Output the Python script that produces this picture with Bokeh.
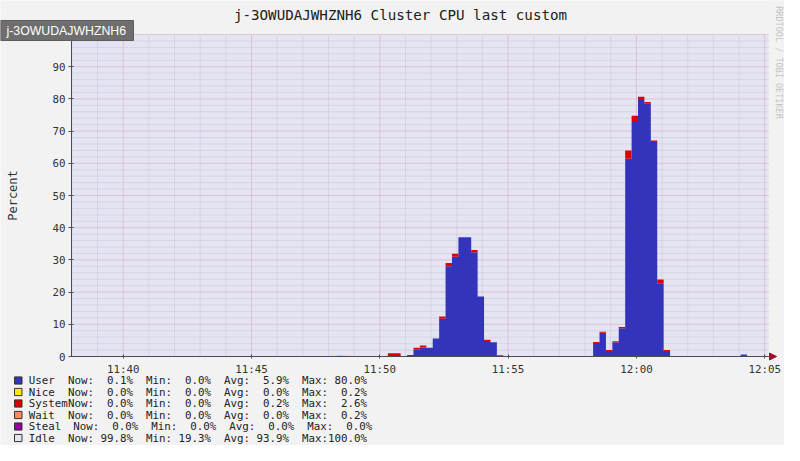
import numpy as np
from bokeh.plotting import figure
from bokeh.models import FixedTicker, Label, BoxAnnotation, Arrow, NormalHead, Range1d
from bokeh.embed import file_html
from bokeh.resources import INLINE

# ---------------- data ----------------
title_text = "j-3OWUDAJWHZNH6 Cluster CPU last custom"
host_badge = "j-3OWUDAJWHZNH6"
y_label = "Percent"
watermark = "RRDTOOL / TOBI OETIKER"

# time axis: minutes after 11:00; graph window and 15 s samples
window_start = 37.985
window_end = 65.148
t_first = 38.0625
t_step = 0.25

user = [
    0.1,
    0.1, 0.1, 0.1, 0.1, 0.1, 0.1, 0.1, 0.1, 0.1, 0.1,
    0.1, 0.1, 0.1, 0.1, 0.1, 0.1, 0.1, 0.1, 0.1, 0.1,
    0.1, 0.1, 0.1, 0.1, 0.1, 0.1, 0.1, 0.1, 0.0, 0.0,
    0.1, 0.1, 0.1, 0.1, 0.1, 0.1, 0.1, 0.1, 0.1, 0.1,
    0.1, 0.1, 0.1, 0.1, 0.1, 0.1, 0.1, 0.1, 0.1, 0.1,
    0.1, 0.0, 0.5, 2.1, 2.8, 2.7, 5.6, 11.7, 28.0, 31.0,
    37.0, 37.0, 32.4, 18.6, 4.8, 4.4, 0.1, 0.1, 0.1, 0.1,
    0.1, 0.1, 0.1, 0.1, 0.1, 0.1, 0.1, 0.1, 0.1, 0.1,
    0.1, 4.2, 7.4, 1.7, 4.4, 8.8, 61.4, 72.8, 80.0, 78.5,
    66.6, 22.6, 1.7, 0.1, 0.1, 0.1, 0.1, 0.1, 0.1, 0.1,
    0.1, 0.1, 0.1, 0.1, 0.6, 0.1, 0.1, 0.1, 0.1,
]
nice = [0.0] * 41 + [0.2] + [0.0] * 68
system = [
    0.0,
    0.0, 0.0, 0.0, 0.0, 0.0, 0.0, 0.0, 0.0, 0.0, 0.0,
    0.0, 0.0, 0.0, 0.0, 0.0, 0.0, 0.0, 0.0, 0.0, 0.0,
    0.0, 0.0, 0.0, 0.0, 0.0, 0.0, 0.0, 0.0, 0.0, 0.0,
    0.0, 0.0, 0.0, 0.0, 0.0, 0.0, 0.0, 0.0, 0.0, 0.0,
    0.0, 0.0, 0.0, 0.0, 0.0, 0.0, 0.0, 0.0, 0.0, 0.9,
    0.9, 0.0, 0.0, 0.6, 0.6, 0.0, 0.0, 0.7, 1.0, 0.9,
    0.0, 0.0, 0.7, 0.0, 0.4, 0.0, 0.3, 0.0, 0.0, 0.0,
    0.0, 0.0, 0.0, 0.0, 0.0, 0.0, 0.0, 0.0, 0.0, 0.0,
    0.0, 0.3, 0.3, 0.3, 0.3, 0.4, 2.6, 2.0, 0.7, 0.5,
    0.5, 1.3, 0.3, 0.0, 0.0, 0.0, 0.0, 0.0, 0.0, 0.0,
    0.0, 0.0, 0.0, 0.0, 0.0, 0.0, 0.0, 0.0, 0.0,
]
wait = [0.0] * 42 + [0.2, 0.1] + [0.0] * 66
steal = [0.0] * 110

x_ticks = [40, 45, 50, 55, 60, 65]
x_tick_labels = ["11:40", "11:45", "11:50", "11:55", "12:00", "12:05"]
x_minor = list(range(38, 66))
y_ticks = [0, 10, 20, 30, 40, 50, 60, 70, 80, 90]
y_major_grid = [10, 20, 30, 40, 50, 60, 70, 80, 90, 100]
y_minor_grid = [v for v in range(2, 100, 2) if v % 10]

legend_names = ["User", "Nice", "System", "Wait", "Steal", "Idle"]
legend_colors = ["#3333bb", "#ffea00", "#dd0000", "#ff8a60", "#990099", "#e4e4f3"]
legend_now = ["0.1%", "0.0%", "0.0%", "0.0%", "0.0%", "99.8%"]
legend_min = ["0.0%", "0.0%", "0.0%", "0.0%", "0.0%", "19.3%"]
legend_avg = ["5.9%", "0.0%", "0.2%", "0.0%", "0.0%", "93.9%"]
legend_max = ["80.0%", "0.2%", "2.6%", "0.2%", "0.0%", "100.0%"]

# ---------------- layout ----------------
W, H = 784, 445
PLOT_L, PLOT_R, PLOT_T, PLOT_B = 71, 768, 34, 356   # graph area in canvas px
px_per_min = (PLOT_R - PLOT_L) / (window_end - window_start)
px_per_pct = (PLOT_B - PLOT_T) / 100.0
x0 = window_start - PLOT_L / px_per_min
x1 = window_start + (W - PLOT_L) / px_per_min
y0 = -(H - PLOT_B) / px_per_pct
y1 = 100 + PLOT_T / px_per_pct

BG = "#f2f2f2"
MONO = "DejaVu Sans Mono"
NBSP = "\u00a0"


def sy(Y):  # canvas-from-top -> screen-from-bottom
    return H - Y


p = figure(width=W, height=H, output_backend="svg", toolbar_location=None,
           x_range=Range1d(x0, x1), y_range=Range1d(y0, y1),
           min_border=0, min_border_left=0, min_border_right=0,
           min_border_top=0, min_border_bottom=0)
p.border_fill_color = BG
p.background_fill_color = BG
p.outline_line_color = None
p.grid.visible = False

# ---------------- stacked series ----------------
n = len(user)
edges = [window_start] + [t_first + t_step * i for i in range(n - 1)] + [window_end]
u = np.array(user)
ni = np.array(nice)
sv = np.array(system)
wa = np.array(wait)
st = np.array(steal)
levels = [np.zeros(n)]
for arr in (u, ni, sv, wa, st):
    levels.append(levels[-1] + arr)
idle = 100.0 - levels[-1]
idle_top = levels[-1] + idle


def ext(a):
    a = list(a)
    return a + [a[-1]]


# idle (the lavender part of the graph)
p.varea_step(x=edges, y1=ext(levels[-1]), y2=ext(idle_top), step_mode="after",
             fill_color=legend_colors[5], fill_alpha=1.0)

# grid lines (dotted), drawn over idle but under the busy series
minor_v = [m for m in x_minor if m not in x_ticks]
p.segment(x0=minor_v, y0=[0] * len(minor_v), x1=minor_v, y1=[100] * len(minor_v),
          line_color="#c6c6d9", line_dash="1 1", line_width=1)
p.segment(x0=[window_start] * len(y_minor_grid), y0=y_minor_grid,
          x1=[window_end] * len(y_minor_grid), y1=y_minor_grid,
          line_color="#c6c6d9", line_dash="1 1", line_width=1)
p.segment(x0=x_ticks, y0=[0] * len(x_ticks), x1=x_ticks, y1=[100] * len(x_ticks),
          line_color="#dc9fb3", line_dash="1 1", line_width=1)
p.segment(x0=[window_start] * len(y_major_grid), y0=y_major_grid,
          x1=[window_end] * len(y_major_grid), y1=y_major_grid,
          line_color="#dc9fb3", line_dash="1 1", line_width=1)

for i in range(5):
    p.varea_step(x=edges, y1=ext(levels[i]), y2=ext(levels[i + 1]), step_mode="after",
                 fill_color=legend_colors[i], fill_alpha=1.0)

# ---------------- axes ----------------
xa = p.xaxis[0]
ya = p.yaxis[0]
xa.fixed_location = 0
xa.bounds = (window_start, window_end)
ya.fixed_location = window_start
ya.bounds = (0, 100)
xa.ticker = FixedTicker(ticks=x_ticks, minor_ticks=x_minor)
xa.major_label_overrides = {t: l for t, l in zip(x_ticks, x_tick_labels)}
ya.ticker = FixedTicker(ticks=y_ticks, minor_ticks=[])
for ax in (xa, ya):
    ax.axis_line_color = "#4a4a55"
    ax.major_tick_line_color = "#4a4a55"
    ax.minor_tick_line_color = None
    ax.major_label_text_font = MONO
    ax.major_label_text_font_size = "10.8px"
    ax.major_label_text_color = "#333333"
xa.major_tick_out = 2
xa.major_tick_in = 2
xa.major_label_standoff = 2
ya.major_tick_out = 3
ya.major_tick_in = 2
ya.major_label_standoff = 3

# arrow at the end of the x axis
p.add_layout(Arrow(end=NormalHead(size=7, fill_color="#a0102a", line_color="#a0102a"),
                   x_start=window_end, y_start=0, x_end=65.46, y_end=0,
                   line_color="#a0102a", line_width=1))

# ---------------- texts ----------------
p.add_layout(Label(x=400, y=sy(14), x_units="screen", y_units="screen", text=title_text,
                   text_align="center", text_baseline="middle", text_font=MONO,
                   text_font_size="14.2px", text_color="#202020"))

p.add_layout(Label(x=12, y=sy(195), x_units="screen", y_units="screen", text=y_label,
                   angle=np.pi / 2, text_align="center", text_baseline="middle", text_font=MONO,
                   text_font_size="12px", text_color="#333333"))

p.add_layout(Label(x=778, y=sy(62), x_units="screen", y_units="screen", text=watermark,
                   angle=-np.pi / 2, text_align="center", text_baseline="middle", text_font=MONO,
                   text_font_size="8.5px", text_color="#c4c4c4"))

# host badge
p.add_layout(BoxAnnotation(left=0, right=133, top=sy(20), bottom=sy(40),
                           left_units="screen", right_units="screen", top_units="screen",
                           bottom_units="screen", fill_color="#6e6e6e", fill_alpha=1.0,
                           line_color="#5c5c5c", line_alpha=1.0))
p.add_layout(Label(x=6, y=sy(30), x_units="screen", y_units="screen", text=host_badge,
                   text_align="left", text_baseline="middle", text_font="Liberation Sans",
                   text_font_size="12.3px", text_color="#ffffff"))

# legend rows (non-breaking spaces keep the monospace columns in SVG)
row0, row_step = 380.0, 11.5
for i, name in enumerate(legend_names):
    yc = row0 + row_step * i
    p.add_layout(BoxAnnotation(left=14, right=21.5, top=sy(yc - 3.6), bottom=sy(yc + 3.6),
                               left_units="screen", right_units="screen", top_units="screen",
                               bottom_units="screen", fill_color=legend_colors[i], fill_alpha=1.0,
                               line_color="#333333", line_alpha=1.0, line_width=1))
    p.add_layout(Label(x=28.3, y=sy(yc), x_units="screen", y_units="screen", text=name,
                       text_align="left", text_baseline="middle", text_font=MONO,
                       text_font_size="10.8px", text_color="#222222"))
    stats = "Now:{:>6}  Min:{:>6}  Avg:{:>6}  Max:{:>6}".format(
        legend_now[i], legend_min[i], legend_avg[i], legend_max[i]).replace(" ", NBSP)
    sx0 = 72.7 if name == "Steal" else 67.4
    p.add_layout(Label(x=sx0, y=sy(yc), x_units="screen", y_units="screen", text=stats,
                       text_align="left", text_baseline="middle", text_font=MONO,
                       text_font_size="10.8px", text_color="#222222"))

open("out.html", "w").write(file_html(p, INLINE))
